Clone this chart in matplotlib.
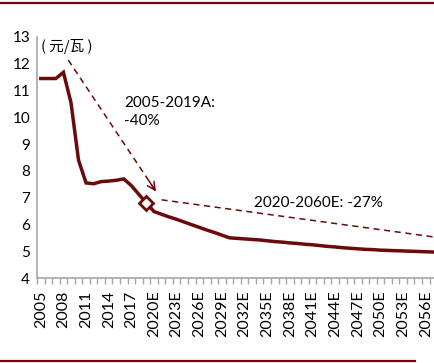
import numpy as np
import matplotlib
matplotlib.use('Agg')
import matplotlib.pyplot as plt
from matplotlib.lines import Line2D

plt.rcParams['font.family'] = ['Lato', 'Noto Sans CJK SC', 'DejaVu Sans']

# price per watt, 2005-2060 (actual to 2019, estimates after)
years = list(range(2005, 2061))
price = [11.45, 11.45, 11.45, 11.68, 10.55, 8.40, 7.55, 7.52, 7.60, 7.62,
         7.65, 7.70, 7.45, 7.12, 6.80,
         6.48, 6.38, 6.28, 6.19, 6.09, 5.99, 5.89, 5.79, 5.70, 5.60,
         5.50, 5.48, 5.46, 5.44, 5.42, 5.39, 5.36, 5.34, 5.31, 5.29,
         5.26, 5.24, 5.21, 5.18, 5.16, 5.13, 5.11, 5.09, 5.07, 5.06,
         5.04, 5.03, 5.02, 5.01, 5.00, 4.99, 4.98, 4.97, 4.96, 4.96, 4.95]
labels = [str(y) if y < 2020 else '%dE' % y for y in years]
marker_year = 2019

# trend guide lines (year, value)
trend1 = [(2008.64, 12.14), (2020.26, 7.23)]
trend2 = [(2021.0, 6.92), (2060.0, 5.42)]
trend1_text = '2005-2019A:\n-40%'
trend2_text = '2020-2060E: -27%'

red = '#6b0a0a'
W, H = 435, 363
fig = plt.figure(figsize=(W / 100, H / 100), dpi=100)

# frame lines top and bottom
fig.add_artist(Line2D([0, 1], [1 - 2.5 / H, 1 - 2.5 / H], color=red, lw=1.6))
fig.add_artist(Line2D([0, 415 / W], [2.5 / H, 2.5 / H], color=red, lw=1.6))

ax = fig.add_axes([37 / W, (H - 278) / H, (W - 37) / W, (278 - 37) / H])
x = np.arange(len(years))
ax.plot(x, price, color=red, lw=2.5, solid_joinstyle='miter', zorder=3)
mi = years.index(marker_year)
ax.plot(x[mi], price[mi], marker='D', ms=7, mfc='white', mec=red, mew=2, zorder=4)

# trend 1 with arrow head
t1x = [p[0] - 2005 for p in trend1]
t1y = [p[1] for p in trend1]
ax.plot(t1x, t1y, color=red, lw=1.1, ls=(0, (4, 3)), zorder=2)
ax.annotate('', xy=(t1x[1], t1y[1]),
            xytext=(t1x[1] - (t1x[1] - t1x[0]) * 0.08, t1y[1] - (t1y[1] - t1y[0]) * 0.08),
            arrowprops=dict(arrowstyle='->', color=red, lw=1.1,
                            mutation_scale=14, shrinkA=0, shrinkB=0))
t2x = [p[0] - 2005 for p in trend2]
t2y = [p[1] for p in trend2]
ax.plot(t2x, t2y, color=red, lw=1.1, ls=(0, (4, 3)), zorder=2)

ax.text(11.0, 9.6, trend1_text, fontsize=11, va='bottom', ha='left', linespacing=1.35)
ax.text(28.3, 6.55, trend2_text, fontsize=11, va='bottom', ha='left')
ax.text(0.0, 12.65, '( 元/瓦 )', fontsize=10.5, family=['Noto Sans CJK SC', 'DejaVu Sans'],
        va='center', ha='left')

ax.set_yticks(range(4, 14))
ax.tick_params(axis='y', length=0, labelsize=11, pad=5)
major = list(range(0, len(years), 3))
ax.set_xticks(major)
ax.set_xticklabels([labels[i] for i in major], rotation=90, fontsize=11.5)
ax.set_xticks(np.arange(-0.5, len(years), 1), minor=True)
ax.tick_params(axis='x', which='major', length=0, pad=9)
ax.tick_params(axis='x', which='minor', length=4, color='#a6a6a6', width=1)
ax.set_xlim(-0.5, (W - 37) / 7.55 - 0.5)
ax.set_ylim(4, 13)
for s in ['top', 'right']:
    ax.spines[s].set_visible(False)
for s in ['left', 'bottom']:
    ax.spines[s].set_color('#a6a6a6')
    ax.spines[s].set_linewidth(1.2)

fig.savefig('out.png', dpi=100)
